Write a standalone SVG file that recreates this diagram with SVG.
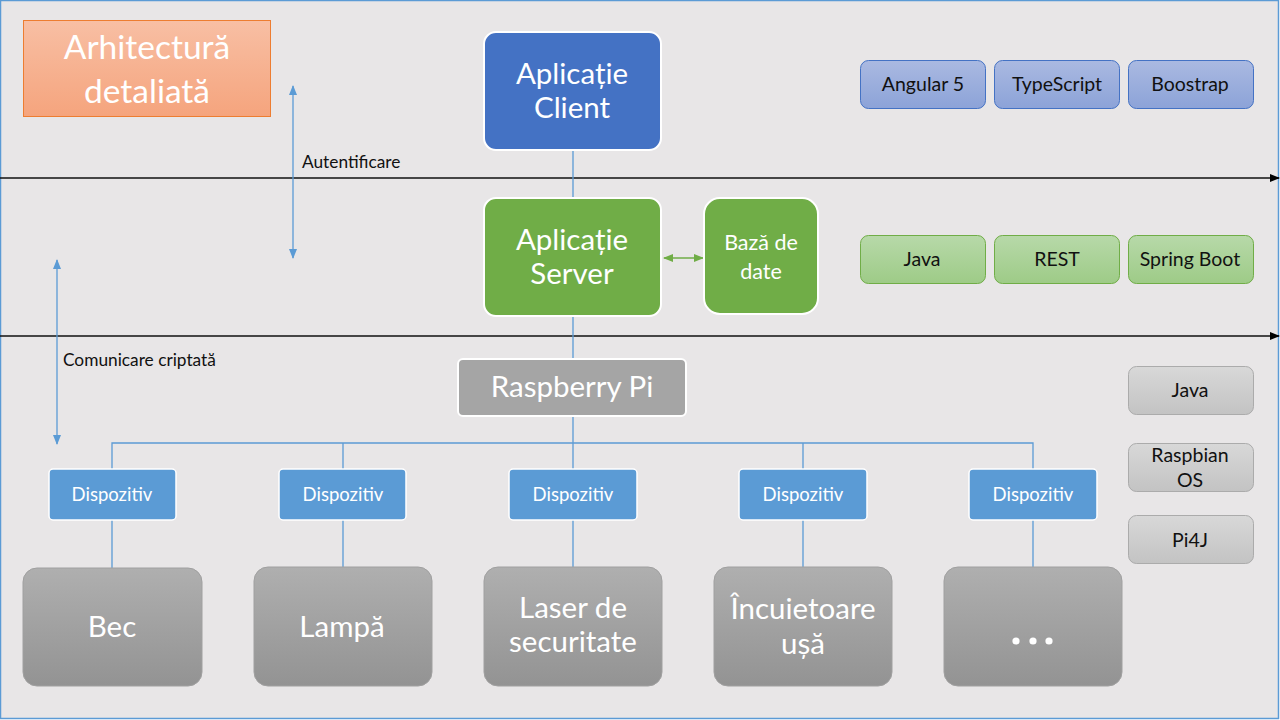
<svg xmlns="http://www.w3.org/2000/svg" width="1280" height="720" viewBox="0 0 1280 720">
<defs>
<linearGradient id="gTitle" x1="0" y1="0" x2="0" y2="1"><stop offset="0" stop-color="#F8BFA4"/><stop offset="1" stop-color="#F5A47D"/></linearGradient>
<linearGradient id="gDev" x1="0" y1="0" x2="0" y2="1"><stop offset="0" stop-color="#AFAFAF"/><stop offset="1" stop-color="#939393"/></linearGradient>
<linearGradient id="gBlue" x1="0" y1="0" x2="0" y2="1"><stop offset="0" stop-color="#AAB9E1"/><stop offset="1" stop-color="#8CA3D8"/></linearGradient>
<linearGradient id="gGreen" x1="0" y1="0" x2="0" y2="1"><stop offset="0" stop-color="#B7D9A9"/><stop offset="1" stop-color="#9ECB87"/></linearGradient>
<linearGradient id="gGray" x1="0" y1="0" x2="0" y2="1"><stop offset="0" stop-color="#D8D8D8"/><stop offset="1" stop-color="#C3C3C3"/></linearGradient>
<marker id="aBlack" markerWidth="10" markerHeight="8" refX="9" refY="4" orient="auto" markerUnits="userSpaceOnUse"><path d="M0,0 L10,4 L0,8 Z" fill="#000"/></marker>
<marker id="aBlue" markerWidth="10" markerHeight="10" refX="9" refY="5" orient="auto-start-reverse" markerUnits="userSpaceOnUse"><path d="M0,1 L10,5 L0,9 Z" fill="#5B9BD5"/></marker>
<marker id="aGreen" markerWidth="10" markerHeight="10" refX="9" refY="5" orient="auto-start-reverse" markerUnits="userSpaceOnUse"><path d="M0,1 L10,5 L0,9 Z" fill="#70AD47"/></marker>
</defs>
<style>
text{font-family:Lato,"Open Sans","Liberation Sans",sans-serif;text-anchor:middle}
.w{fill:#fff}
.k{fill:#111}
.big{font-size:29.5px}
.mid{font-size:21.5px}
.sm{font-size:18.5px}
.tag{font-size:19.5px}
.lbl{font-size:17.3px;text-anchor:start;fill:#111}
.conn{stroke:#5B9BD5;stroke-width:1.3;fill:none}
.dev{fill:url(#gDev);stroke:#A0A0A0;stroke-width:1}
.disp{fill:#5B9BD5;stroke:#fff;stroke-width:1.5}
.tb{fill:url(#gBlue);stroke:#4472C4;stroke-width:1}
.tg{fill:url(#gGreen);stroke:#70AD47;stroke-width:1}
.tr{fill:url(#gGray);stroke:#ABABAB;stroke-width:1}
</style>
<rect x="0.5" y="0.5" width="1278" height="718" fill="#E8E6E7" stroke="#5B9BD5" stroke-width="1.5"/>

<g id="connectors">
<line x1="0" y1="178" x2="1279" y2="178" stroke="#111" stroke-width="1.3" marker-end="url(#aBlack)"/>
<line x1="0" y1="336" x2="1279" y2="336" stroke="#111" stroke-width="1.3" marker-end="url(#aBlack)"/>
<line x1="293" y1="86" x2="293" y2="258" stroke="#5B9BD5" stroke-width="1.3" marker-start="url(#aBlue)" marker-end="url(#aBlue)"/>
<line x1="57" y1="260" x2="57" y2="444" stroke="#5B9BD5" stroke-width="1.3" marker-start="url(#aBlue)" marker-end="url(#aBlue)"/>
<line x1="664" y1="258" x2="703" y2="258" stroke="#70AD47" stroke-width="1.5" marker-start="url(#aGreen)" marker-end="url(#aGreen)"/>
<path class="conn" d="M573,150 V198 M573,316 V359 M573,416 V443 M112,469 V443 H1033 V469 M343,443 V469 M573,443 V469 M803,443 V469"/>
<path class="conn" d="M112,520 V568 M343,520 V567 M573,520 V567 M803,520 V567 M1033,520 V567"/>
</g>

<g id="labels">
<text class="lbl" x="302" y="168">Autentificare</text>
<text class="lbl" x="63" y="366">Comunicare criptată</text>
</g>

<g id="title">
<rect x="23.5" y="20.5" width="247" height="96" fill="url(#gTitle)" stroke="#ED7D31" stroke-width="1"/>
<text class="w" x="147" y="59" font-size="33.5">Arhitectură</text>
<text class="w" x="147" y="103" font-size="33.5">detaliată</text>
</g>

<g id="client">
<rect x="484" y="32" width="177" height="118" rx="12" fill="#4472C4" stroke="#fff" stroke-width="2"/>
<text class="w big" x="572" y="84">Aplicație</text>
<text class="w big" x="572" y="118">Client</text>
</g>

<g id="server">
<rect x="484" y="198" width="177" height="118" rx="12" fill="#70AD47" stroke="#fff" stroke-width="2"/>
<text class="w big" x="572" y="250">Aplicație</text>
<text class="w big" x="572" y="284">Server</text>
</g>

<g id="db">
<rect x="704" y="198" width="114" height="116" rx="16" fill="#70AD47" stroke="#fff" stroke-width="2"/>
<text class="w mid" x="761" y="250">Bază de</text>
<text class="w mid" x="761" y="279">date</text>
</g>

<g id="rpi">
<rect x="458" y="359" width="228" height="57" rx="5" fill="#A5A5A5" stroke="#fff" stroke-width="2"/>
<text class="w big" x="572" y="397">Raspberry Pi</text>
</g>

<g id="disp1"><rect class="disp" x="49" y="469" width="127" height="51" rx="4"/><text class="w sm" x="112" y="501">Dispozitiv</text></g>
<g id="disp2"><rect class="disp" x="279" y="469" width="127" height="51" rx="4"/><text class="w sm" x="343" y="501">Dispozitiv</text></g>
<g id="disp3"><rect class="disp" x="509" y="469" width="128" height="51" rx="4"/><text class="w sm" x="573" y="501">Dispozitiv</text></g>
<g id="disp4"><rect class="disp" x="739" y="469" width="128" height="51" rx="4"/><text class="w sm" x="803" y="501">Dispozitiv</text></g>
<g id="disp5"><rect class="disp" x="969" y="469" width="128" height="51" rx="4"/><text class="w sm" x="1033" y="501">Dispozitiv</text></g>

<g id="bec"><rect class="dev" x="23" y="568" width="179" height="118" rx="14"/><text class="w big" x="112" y="637">Bec</text></g>
<g id="lampa"><rect class="dev" x="254" y="567" width="178" height="119" rx="14"/><text class="w big" x="342" y="637">Lampă</text></g>
<g id="laser"><rect class="dev" x="484" y="567" width="178" height="119" rx="14"/><text class="w big" x="573" y="618">Laser de</text><text class="w big" x="573" y="652">securitate</text></g>
<g id="incuietoare"><rect class="dev" x="714" y="567" width="178" height="119" rx="14"/><text class="w big" x="803" y="619">Încuietoare</text><text class="w big" x="803" y="654">ușă</text></g>
<g id="etc"><rect class="dev" x="944" y="567" width="178" height="119" rx="14"/><circle cx="1016" cy="641" r="3.6" fill="#fff"/><circle cx="1033" cy="641" r="3.6" fill="#fff"/><circle cx="1049" cy="641" r="3.6" fill="#fff"/></g>

<g id="angular"><rect class="tb" x="860.5" y="60.5" width="125" height="48" rx="8"/><text class="k tag" x="923" y="91">Angular 5</text></g>
<g id="typescript"><rect class="tb" x="994.5" y="60.5" width="125" height="48" rx="8"/><text class="k tag" x="1057" y="91">TypeScript</text></g>
<g id="bootstrap"><rect class="tb" x="1128.5" y="60.5" width="125" height="48" rx="8"/><text class="k tag" x="1190" y="91">Boostrap</text></g>

<g id="java-srv"><rect class="tg" x="860.5" y="235.5" width="125" height="48" rx="8"/><text class="k tag" x="922" y="266">Java</text></g>
<g id="rest"><rect class="tg" x="994.5" y="235.5" width="125" height="48" rx="8"/><text class="k tag" x="1057" y="266">REST</text></g>
<g id="spring"><rect class="tg" x="1128.5" y="235.5" width="125" height="48" rx="8"/><text class="k tag" x="1190" y="266">Spring Boot</text></g>

<g id="java-pi"><rect class="tr" x="1128.5" y="366.5" width="125" height="48" rx="8"/><text class="k tag" x="1190" y="397">Java</text></g>
<g id="raspbian"><rect class="tr" x="1128.5" y="443.5" width="125" height="48" rx="8"/><text class="k tag" x="1190" y="462">Raspbian</text><text class="k tag" x="1190" y="487">OS</text></g>
<g id="pi4j"><rect class="tr" x="1128.5" y="515.5" width="125" height="48" rx="8"/><text class="k tag" x="1190" y="547">Pi4J</text></g>
</svg>
